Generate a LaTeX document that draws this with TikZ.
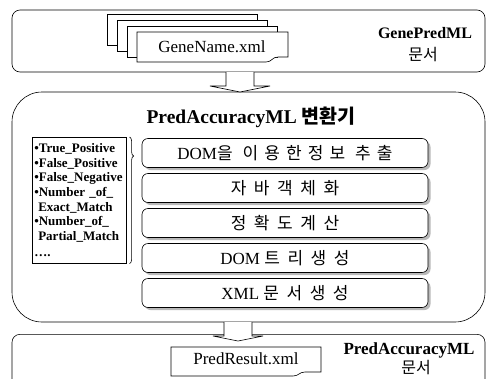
\documentclass[tikz,border=0pt]{standalone}
\usepackage{fontspec}
\setmainfont{Liberation Serif}
\newfontfamily\kr{Noto Sans CJK KR}
\newfontfamily\krsp[LetterSpace=22]{Noto Sans CJK KR}
\newfontfamily\krlarge[LetterSpace=36]{Noto Sans CJK KR}
\usetikzlibrary{positioning,calc,decorations.pathreplacing,shadows}

\begin{document}
\begin{tikzpicture}[x=1pt,y=-1pt,line width=0.6pt,
	cadre/.style={draw,rounded corners=8pt,minimum width=473pt},
	feuille/.style={draw,fill=white},
	etape/.style={draw,fill=white,rounded corners=6pt,minimum width=286pt,minimum height=29pt,
		font=\fontsize{17}{17}\selectfont,
		drop shadow={shadow xshift=2.5pt,shadow yshift=-2.5pt,fill=gray!55,opacity=1}},
	fleche/.style={draw,fill=white,line join=miter}]
	\clip (0,0) rectangle (487,378);
	% bloc du haut : documents GenePredML
	\node[cadre,minimum height=62pt] (gene) at (248.5,41) {};
	\foreach \i in {0,1,2}
		\draw[feuille] ($(107,14)+(10*\i,6*\i)$) rectangle +(150,31);
	\draw[feuille] (137,32) -- (288,32) -- (288,57) -- (278,57) .. controls (272,57) and (272,62) .. (266,62) -- (137,62) -- cycle;
	\node[font=\fontsize{17}{17}\selectfont] (nomgene) at (212,47) {GeneName.xml};
	\node[font=\bfseries\fontsize{16}{16}\selectfont] (titregene) at (425,33) {GenePredML};
	\node[font=\kr\fontsize{16}{16}\selectfont] (docgene) at (423,55) {문서};
	% convertisseur
	\node[draw,rounded corners=30pt,minimum width=473pt,minimum height=230pt] (conv) at (248.5,207) {};
	\node[font=\bfseries\fontsize{19.5}{19.5}\selectfont] (titre) at (251,117) {PredAccuracyML {\kr 변환기}};
	% liste des mesures
	\node[draw,anchor=north west,text width=90pt,minimum height=126pt,inner xsep=2pt,inner ysep=3pt,
		font=\bfseries\fontsize{13}{14.6}\selectfont,align=left] (liste) at (32,137)
		{•True\_Positive\\•False\_Positive\\•False\_Negative\\•Number \_of\_\\\hspace*{4pt}Exact\_Match\\
		 •Number\_of\_\\\hspace*{4pt}Partial\_Match\\[2pt]….};
	\draw[decorate,decoration={brace,amplitude=4pt,aspect=0.15}] ($(liste.north east)+(3,0)$) -- ($(liste.south east)+(3,0)$);
	% etapes
	\foreach \txt [count=\n] in {{DOM{\krlarge 을 이용한정보 추출}},{\krsp 자 바 객 체 화},{\krsp 정 확 도 계 산},
		{DOM {\krsp 트 리 생 성}},{XML {\krsp 문 서 생 성}}}
		\node[etape] (e\n) at (285,118+35*\n) {\txt};
	% bloc du bas : resultat
	\node[cadre,minimum height=60pt,anchor=north] (res) at (248.5,334) {};
	\draw[feuille] (171,347) -- (321,347) -- (321,372) -- (305,372) .. controls (299,372) and (299,376) .. (293,376) -- (171,376) -- cycle;
	\node[font=\fontsize{17}{17}\selectfont] (nomres) at (246,359) {PredResult.xml};
	\node[font=\bfseries\fontsize{17}{17}\selectfont] (titreres) at (409,350) {PredAccuracyML};
	\node[font=\kr\fontsize{16}{16}\selectfont] (docres) at (416,368) {문서};
	% fleches
	\coordinate (d1) at (240,72);
	\coordinate (a1) at (240,92);
	\draw[fleche] ($(d1)+(-14,0)$) -- ($(d1)+(-14,14)$) -- ($(d1)+(-30,14)$) -- (a1) -- ($(d1)+(30,14)$) -- ($(d1)+(14,14)$) -- ($(d1)+(14,0)$);
	\coordinate (d2) at (238,322);
	\coordinate (a2) at (238,341);
	\draw[fleche] ($(d2)+(-14,0)$) -- ($(d2)+(-14,14)$) -- ($(d2)+(-25,14)$) -- (a2) -- ($(d2)+(25,14)$) -- ($(d2)+(14,14)$) -- ($(d2)+(14,0)$);
\end{tikzpicture}
\end{document}
